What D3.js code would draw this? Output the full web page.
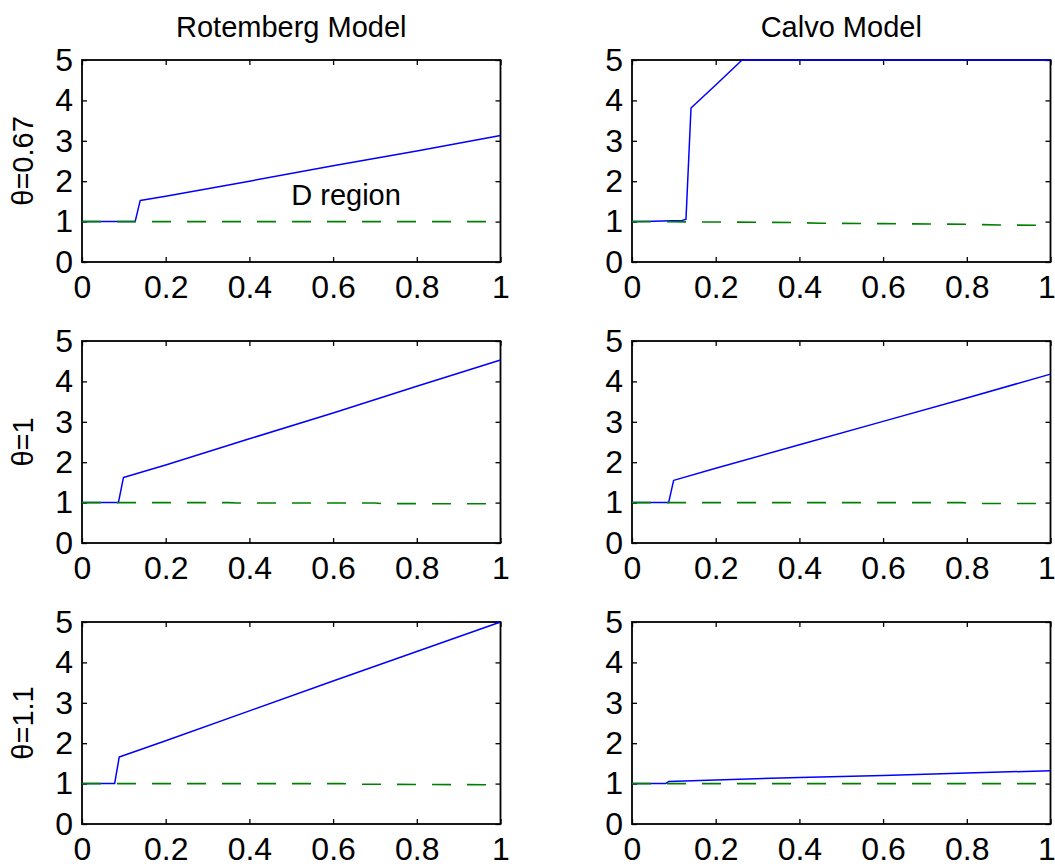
<!DOCTYPE html>
<html>
<head>
<meta charset="utf-8">
<script src="https://cdn.jsdelivr.net/npm/d3@7"></script>
<style>
  html, body { margin: 0; padding: 0; background: #fff; }
  svg { display: block; font-family: "Liberation Sans", Arial, Helvetica, sans-serif; }
</style>
</head>
<body>
<svg id="chart" width="1055" height="867"></svg>
<script>
// Axis ticks and labels
const xTicks = [0, 0.2, 0.4, 0.6, 0.8, 1];
const yTicks = [0, 1, 2, 3, 4, 5];
const columnTitles = ["Rotemberg Model", "Calvo Model"];
const rowLabels = ["θ=0.67", "θ=1", "θ=1.1"];

// Solid blue series (breakpoints along each curve)
const rotemberg067X = [0, 0.127, 0.139, 0.2, 0.4, 0.6, 0.8, 1];
const rotemberg067Y = [1, 1, 1.52, 1.63, 2.0, 2.38, 2.75, 3.13];
const calvo067X = [0, 0.05, 0.12, 0.129, 0.141, 0.2, 0.263, 1];
const calvo067Y = [1, 1.01, 1.03, 1.06, 3.81, 4.38, 5, 5];

const rotemberg1X = [0, 0.087, 0.099, 0.2, 0.4, 0.6, 0.8, 1];
const rotemberg1Y = [1, 1, 1.62, 1.93, 2.58, 3.22, 3.88, 4.53];
const calvo1X = [0, 0.0875, 0.0995, 0.2, 0.4, 0.6, 0.8, 1];
const calvo1Y = [1, 1, 1.55, 1.85, 2.43, 3.01, 3.59, 4.18];

const rotemberg11X = [0, 0.078, 0.089, 0.2, 0.4, 0.6, 0.8, 1];
const rotemberg11Y = [1, 1, 1.66, 2.06, 2.8, 3.54, 4.27, 5.0];
const calvo11X = [0, 0.08, 0.0875, 0.2, 0.4, 0.6, 0.8, 1];
const calvo11Y = [1, 1, 1.05, 1.09, 1.15, 1.2, 1.26, 1.32];

// Dashed green series
const greenRot067X = [0, 1];
const greenRot067Y = [1, 1];
const greenCalvo067X = [0, 0.2, 0.4, 0.45, 0.6, 0.8, 0.88, 1];
const greenCalvo067Y = [1, 0.99, 0.975, 0.96, 0.95, 0.935, 0.915, 0.91];
const greenRot1X = [0, 0.35, 0.37, 0.7, 0.72, 1];
const greenRot1Y = [1, 1, 0.99, 0.99, 0.975, 0.97];
const greenCalvo1X = [0, 0.79, 0.81, 1];
const greenCalvo1Y = [1, 1, 0.98, 0.975];
const greenRot11X = [0, 0.62, 0.65, 1];
const greenRot11Y = [1, 1, 0.985, 0.97];
const greenCalvo11X = [0, 1];
const greenCalvo11Y = [1, 1];

// Text annotation inside the first panel
const annotationText = ["D region"];
const annotationX = [0.5];
const annotationY = [1.41];

const zip = (xs, ys) => xs.map((x, i) => ({ x, y: ys[i] }));

const panels = [
  { row: 0, col: 0, blue: zip(rotemberg067X, rotemberg067Y), green: zip(greenRot067X, greenRot067Y), note: true },
  { row: 0, col: 1, blue: zip(calvo067X, calvo067Y), green: zip(greenCalvo067X, greenCalvo067Y) },
  { row: 1, col: 0, blue: zip(rotemberg1X, rotemberg1Y), green: zip(greenRot1X, greenRot1Y) },
  { row: 1, col: 1, blue: zip(calvo1X, calvo1Y), green: zip(greenCalvo1X, greenCalvo1Y) },
  { row: 2, col: 0, blue: zip(rotemberg11X, rotemberg11Y), green: zip(greenRot11X, greenRot11Y) },
  { row: 2, col: 1, blue: zip(calvo11X, calvo11Y), green: zip(greenCalvo11X, greenCalvo11Y) }
];

// Grid geometry
const colLeft = [82, 632];
const rowTop = [60, 341, 622];
const pw = 418.5, ph = 202;
const labelFont = 29;
const tickFont = 32;
const tickLen = 5;

const svg = d3.select("#chart");

const x = d3.scaleLinear().domain([0, 1]).range([0, pw]);
const y = d3.scaleLinear().domain([0, 5]).range([ph, 0]);
const fmt = d => String(d);

const line = d3.line().x(d => x(d.x)).y(d => y(d.y));

panels.forEach(p => {
  const g = svg.append("g")
    .attr("transform", `translate(${colLeft[p.col]},${rowTop[p.row]})`);

  // Axes with inward ticks on all four sides
  const bottom = g.append("g").attr("transform", `translate(0,${ph})`)
    .call(d3.axisBottom(x).tickValues(xTicks).tickFormat(fmt).tickSizeInner(-tickLen).tickSizeOuter(0).tickPadding(13));
  const left = g.append("g")
    .call(d3.axisLeft(y).tickValues(yTicks).tickFormat(fmt).tickSizeInner(-tickLen).tickSizeOuter(0).tickPadding(9));
  const top = g.append("g")
    .call(d3.axisTop(x).tickValues(xTicks).tickFormat("").tickSizeInner(-tickLen).tickSizeOuter(0));
  const right = g.append("g").attr("transform", `translate(${pw},0)`)
    .call(d3.axisRight(y).tickValues(yTicks).tickFormat("").tickSizeInner(-tickLen).tickSizeOuter(0));

  [bottom, left, top, right].forEach(a => {
    a.select(".domain").remove();
    a.selectAll(".tick line").attr("stroke", "#000").attr("stroke-width", 1.3);
    a.selectAll("text")
      .attr("fill", "#000")
      .style("font-size", tickFont + "px")
      .style("font-family", '"Liberation Sans", Arial, sans-serif');
  });

  // keep the last x label of the right-hand column inside the page
  if (p.col === 1) {
    bottom.selectAll(".tick text").filter(d => d === 1).attr("dx", -4);
  }

  g.append("rect")
    .attr("x", 0).attr("y", 0).attr("width", pw).attr("height", ph)
    .attr("fill", "none").attr("stroke", "#000").attr("stroke-width", 1.8);

  // Curves are drawn over the frame so values at the top limit stay visible
  const clipId = `clip-${p.row}-${p.col}`;
  g.append("clipPath").attr("id", clipId)
    .append("rect").attr("x", 0).attr("y", -2).attr("width", pw).attr("height", ph + 4);

  const plot = g.append("g").attr("clip-path", `url(#${clipId})`);

  plot.append("path")
    .datum(p.blue)
    .attr("d", line)
    .attr("fill", "none")
    .attr("stroke", "#0000ff")
    .attr("stroke-width", 1.5)
    .attr("stroke-linejoin", "round");

  plot.append("path")
    .datum(p.green)
    .attr("d", line)
    .attr("fill", "none")
    .attr("stroke", "#008000")
    .attr("stroke-width", 1.6)
    .attr("stroke-dasharray", "19,16");

  if (p.note) {
    g.selectAll("text.note")
      .data(annotationText.map((t, i) => ({ t, x: annotationX[i], y: annotationY[i] })))
      .join("text")
      .attr("class", "note")
      .attr("x", d => x(d.x))
      .attr("y", d => y(d.y))
      .attr("font-size", labelFont)
      .attr("fill", "#000")
      .text(d => d.t);
  }
});

// Column titles
svg.selectAll("text.coltitle")
  .data(columnTitles)
  .join("text")
  .attr("class", "coltitle")
  .attr("x", (d, i) => colLeft[i] + pw / 2)
  .attr("y", 37)
  .attr("text-anchor", "middle")
  .attr("font-size", labelFont)
  .attr("fill", "#000")
  .text(d => d);

// Row labels
svg.selectAll("text.rowlabel")
  .data(rowLabels)
  .join("text")
  .attr("class", "rowlabel")
  .attr("transform", (d, i) => `translate(33,${rowTop[i] + ph / 2}) rotate(-90)`)
  .attr("text-anchor", "middle")
  .attr("font-size", labelFont)
  .attr("fill", "#000")
  .text(d => d);
</script>
</body>
</html>
